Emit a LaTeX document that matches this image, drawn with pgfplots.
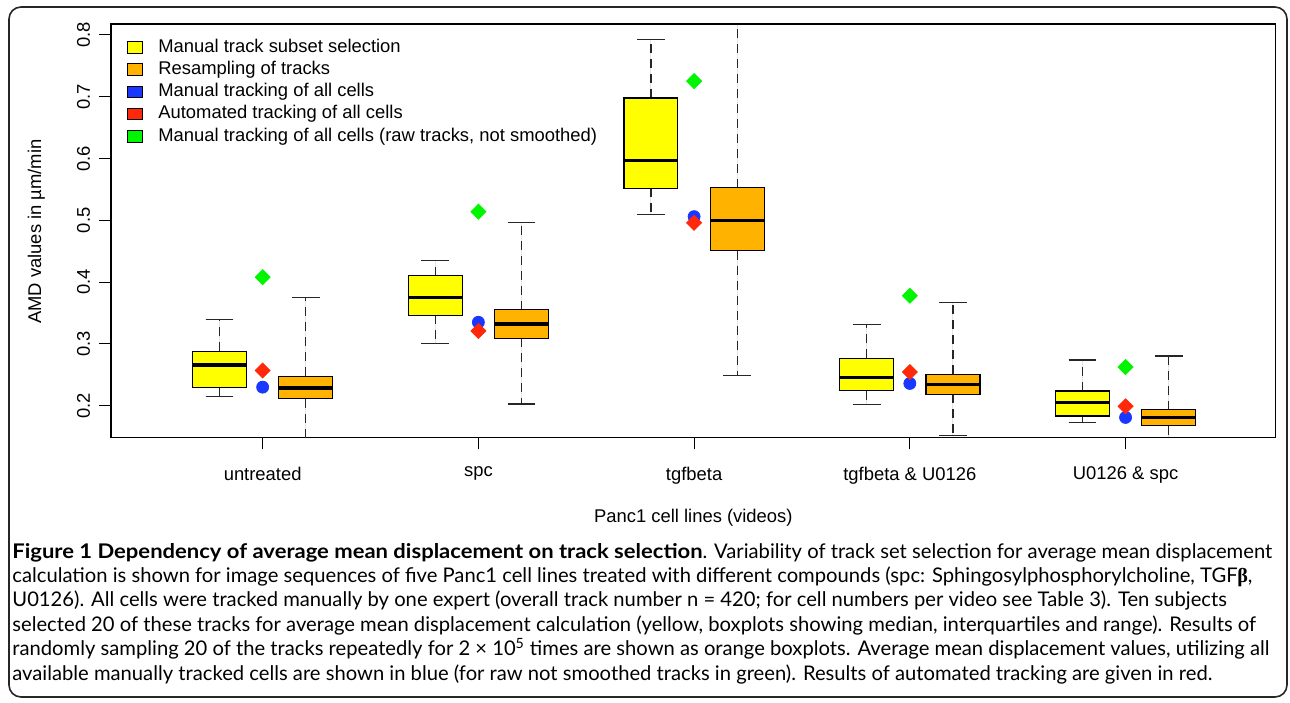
\documentclass[border=0pt]{standalone}
\usepackage{pgfplots}
\pgfplotsset{compat=1.18}
\usepgfplotslibrary{statistics}
\usepackage{fontspec}
\setmainfont{Liberation Sans}
\newfontfamily\capfont{Lato}[BoldFeatures={FakeStretch=1.09}]
\newfontfamily\betafont{Liberation Serif}
\definecolor{byel}{RGB}{255,255,0}
\definecolor{bora}{RGB}{255,178,0}
\definecolor{pblue}{RGB}{25,55,255}
\definecolor{pred}{RGB}{255,40,10}
\definecolor{pgreen}{RGB}{0,245,0}
\begin{document}
\begin{tikzpicture}
\useasboundingbox (0pt,0pt) rectangle (645pt,351pt);
\draw[line width=0.8pt, rounded corners=6pt, black!85] (4.5pt,2.5pt) rectangle (643.5pt,347.5pt);
\begin{axis}[
  at={(55.5pt,132.15pt)}, anchor=south west,
  scale only axis, width=582.35pt, height=206.85pt,
  xmin=0.297, xmax=5.696, ymin=0.1482, ymax=0.8178,
  xtick={1,2,3,4,5},
  xticklabels={untreated, spc, tgfbeta, tgfbeta \& U0126, U0126 \& spc},
  ytick={0.2,0.3,0.4,0.5,0.6,0.7,0.8},
  yticklabels={0.2,0.3,0.4,0.5,0.6,0.7,0.8},
  tick pos=left, tick align=outside, major tick length=5.8pt,
  tick style={black, line width=0.5pt},
  axis line style={line width=0.6pt},
  font=\fontsize{9.2}{11}\selectfont,
  xticklabel style={anchor=north, inner sep=0pt},
  xticklabel shift=8.5pt,
  yticklabel style={rotate=90, anchor=south, inner sep=0pt},
  yticklabel shift=4.5pt,
  xlabel={Panc1 cell lines (videos)},
  xlabel style={at={(axis description cs:0.5,-0.1935)}, anchor=center, inner sep=0pt},
  ylabel={AMD values in µm/min},
  ylabel style={at={(axis description cs:-0.064,0.498)}, anchor=center, inner sep=0pt},
  boxplot/draw direction=y,
  boxplot/box extend=0.25,
  boxplot/whisker extend=0.128,
  boxplot/every box/.style={draw=black, line width=0.55pt},
  boxplot/every median/.style={draw=black, line width=1.7pt},
  boxplot/draw/lower whisker/.code={%
    \draw[black!85, line width=0.6pt, dash pattern=on 4.5pt off 3pt]
      (boxplot cs:\pgfplotsboxplotvalue{lower quartile}) -- (boxplot cs:\pgfplotsboxplotvalue{lower whisker});
    \draw[black!85, line width=0.6pt]
      (boxplot whisker cs:\pgfplotsboxplotvalue{lower whisker},0) -- (boxplot whisker cs:\pgfplotsboxplotvalue{lower whisker},1);
  },
  boxplot/draw/upper whisker/.code={%
    \draw[black!85, line width=0.6pt, dash pattern=on 4.5pt off 3pt]
      (boxplot cs:\pgfplotsboxplotvalue{upper quartile}) -- (boxplot cs:\pgfplotsboxplotvalue{upper whisker});
    \draw[black!85, line width=0.6pt]
      (boxplot whisker cs:\pgfplotsboxplotvalue{upper whisker},0) -- (boxplot whisker cs:\pgfplotsboxplotvalue{upper whisker},1);
  },
  legend style={at={(axis description cs:0.0137,0.970)}, anchor=north west, draw=none, fill=none,
    inner sep=0pt, outer sep=0pt, row sep=0pt, /tikz/column sep=0pt,
    nodes={inner sep=1.15pt, text height=6.8pt, text depth=2pt}},
  legend cell align=left,
]
% yellow: manual track subset selection
\addplot[forget plot, fill=byel, draw=black, boxplot prepared={draw position=0.8,
  lower whisker=0.2146, lower quartile=0.229, median=0.266, upper quartile=0.288, upper whisker=0.340}] coordinates {};
\addplot[forget plot, fill=byel, draw=black, boxplot prepared={draw position=1.8,
  lower whisker=0.3004, lower quartile=0.3463, median=0.3748, upper quartile=0.4104, upper whisker=0.4353}] coordinates {};
\addplot[forget plot, fill=byel, draw=black, boxplot prepared={draw position=2.8,
  lower whisker=0.510, lower quartile=0.552, median=0.5965, upper quartile=0.698, upper whisker=0.793}] coordinates {};
\addplot[forget plot, fill=byel, draw=black, boxplot prepared={draw position=3.8,
  lower whisker=0.2023, lower quartile=0.2243, median=0.2453, upper quartile=0.2767, upper whisker=0.3317}] coordinates {};
\addplot[forget plot, fill=byel, draw=black, boxplot prepared={draw position=4.8,
  lower whisker=0.1725, lower quartile=0.1833, median=0.2055, upper quartile=0.2238, upper whisker=0.274}] coordinates {};
% orange: resampling of tracks
\addplot[forget plot, fill=bora, draw=black, boxplot prepared={draw position=1.2,
  lower whisker=0.13, lower quartile=0.211, median=0.2287, upper quartile=0.2476, upper whisker=0.375}] coordinates {};
\addplot[forget plot, fill=bora, draw=black, boxplot prepared={draw position=2.2,
  lower whisker=0.2027, lower quartile=0.309, median=0.332, upper quartile=0.355, upper whisker=0.496}] coordinates {};
\addplot[forget plot, fill=bora, draw=black, boxplot prepared={draw position=3.2,
  lower whisker=0.2486, lower quartile=0.451, median=0.500, upper quartile=0.5528, upper whisker=0.86}] coordinates {};
\addplot[forget plot, fill=bora, draw=black, boxplot prepared={draw position=4.2,
  lower whisker=0.1515, lower quartile=0.2185, median=0.2346, upper quartile=0.2508, upper whisker=0.3667}] coordinates {};
\addplot[forget plot, fill=bora, draw=black, boxplot prepared={draw position=5.2,
  lower whisker=0.13, lower quartile=0.1676, median=0.1806, upper quartile=0.1935, upper whisker=0.2804}] coordinates {};
% manual tracking of all cells (blue)
\addplot[forget plot, only marks, mark=*, mark size=3pt, color=pblue]
  coordinates {(1,0.230) (2,0.335) (3,0.506) (4,0.236) (5,0.181)};
% automated tracking (red)
\addplot[forget plot, only marks, mark=square*, mark size=2.65pt, mark options={rotate=45}, color=pred]
  coordinates {(1,0.257) (2,0.321) (3,0.496) (4,0.2545) (5,0.199)};
% raw tracks (green)
\addplot[forget plot, only marks, mark=square*, mark size=2.65pt, mark options={rotate=45}, color=pgreen]
  coordinates {(1,0.408) (2,0.514) (3,0.7254) (4,0.378) (5,0.2626)};
% legend
\addlegendimage{legend image code/.code={\draw[fill=byel, draw=black, line width=0.5pt] (0pt,-2.9pt) rectangle (7.3pt,2.9pt); \path[draw=none] (0pt,0pt) -- (14.3pt,0pt);}}
\addlegendentry{Manual track subset selection}
\addlegendimage{legend image code/.code={\draw[fill=bora, draw=black, line width=0.5pt] (0pt,-2.9pt) rectangle (7.3pt,2.9pt); \path[draw=none] (0pt,0pt) -- (14.3pt,0pt);}}
\addlegendentry{Resampling of tracks}
\addlegendimage{legend image code/.code={\draw[fill=pblue, draw=black, line width=0.5pt] (0pt,-2.9pt) rectangle (7.3pt,2.9pt); \path[draw=none] (0pt,0pt) -- (14.3pt,0pt);}}
\addlegendentry{Manual tracking of all cells}
\addlegendimage{legend image code/.code={\draw[fill=pred, draw=black, line width=0.5pt] (0pt,-2.9pt) rectangle (7.3pt,2.9pt); \path[draw=none] (0pt,0pt) -- (14.3pt,0pt);}}
\addlegendentry{Automated tracking of all cells}
\addlegendimage{legend image code/.code={\draw[fill=pgreen, draw=black, line width=0.5pt] (0pt,-2.9pt) rectangle (7.3pt,2.9pt); \path[draw=none] (0pt,0pt) -- (14.3pt,0pt);}}
\addlegendentry{Manual tracking of all cells (raw tracks, not smoothed)}
\end{axis}
\begin{scope}[every node/.style={anchor=base west, inner sep=0pt, font=\capfont\fontsize{10.1}{12}\selectfont}]
\node at (6pt,72pt) {{\bfseries Figure 1 Dependency of average mean displacement on track selection}. Variability of track set selection for average mean displacement};
\node at (6pt,59.8pt) {calculation is shown for image sequences of five Panc1 cell lines treated with different compounds (spc: Sphingosylphosphorylcholine, TGF{\betafont\bfseries β},};
\node at (6pt,47.6pt) {U0126). All cells were tracked manually by one expert (overall track number n = 420; for cell numbers per video see Table 3). Ten subjects};
\node at (6pt,35.4pt) {selected 20 of these tracks for average mean displacement calculation (yellow, boxplots showing median, interquartiles and range). Results of};
\node at (6pt,23.2pt) {randomly sampling 20 of the tracks repeatedly for 2 × 10\textsuperscript{5} times are shown as orange boxplots. Average mean displacement values, utilizing all};
\node at (6pt,11pt) {available manually tracked cells are shown in blue (for raw not smoothed tracks in green). Results of automated tracking are given in red.};
\end{scope}
\end{tikzpicture}
\end{document}
